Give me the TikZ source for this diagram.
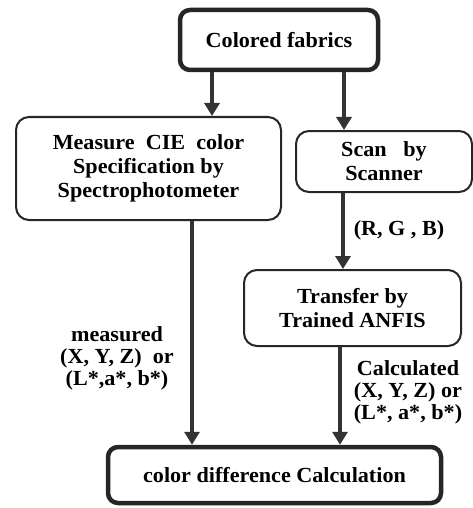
\documentclass[tikz,border=0pt]{standalone}
\usepackage{fontspec}
\setmainfont{Liberation Serif}[FakeStretch=1.03]
\usetikzlibrary{arrows.meta}
\begin{document}
\begin{tikzpicture}[x=1pt,y=-1pt,
  font=\fontsize{21.5}{24}\selectfont\bfseries,
  thickbox/.style={draw=black!85,line width=4.5pt,rounded corners=10pt,inner sep=0pt,align=center},
  thinbox/.style={draw=black!85,line width=2pt,rounded corners=13pt,inner sep=0pt,align=center},
  arr/.style={draw=black!80,line width=3.5pt,-{Triangle[width=15pt,length=13pt]}},
  lbl/.style={align=center,inner sep=0pt,font=\fontsize{21.5}{22}\selectfont\bfseries}]
\useasboundingbox (0,0) rectangle (473,508);
\node[thickbox,minimum width=198pt,minimum height=60pt] (top) at (279,40) {Colored fabrics};
\node[thinbox,minimum width=265pt,minimum height=103pt] (meas) at (148.5,168.5) {Measure\ \ CIE\ \ color\\Specification by\\Spectrophotometer};
\node[thinbox,minimum width=176pt,minimum height=61pt] (scan) at (384,161.5) {Scan\ \ \ by\\Scanner};
\node[thinbox,minimum width=217pt,minimum height=76pt] (anfis) at (352.5,308) {Transfer by\\Trained ANFIS};
\node[thickbox,minimum width=333pt,minimum height=56pt] (diff) at (274.5,475) {color difference Calculation};
\coordinate (c1) at (212,0);
\coordinate (c2) at (344,0);
\coordinate (c3) at (192,0);
\coordinate (c4) at (343,0);
\coordinate (c5) at (340,0);
\draw[arr] (top.south -| c1) -- (meas.north -| c1);
\draw[arr] (top.south -| c2) -- (scan.north -| c2);
\draw[arr] (meas.south -| c3) -- (diff.north -| c3);
\draw[arr] (scan.south -| c4) -- (anfis.north -| c4);
\draw[arr] (anfis.south -| c5) -- (diff.north -| c5);
\node[lbl] (rgb) at (399,230) {(R, G , B)};
\node[lbl] (mlab) at (117,358) {measured\\(X, Y, Z)\ \ or\\(L*,a*, b*)};
\node[lbl] (clab) at (408,392) {Calculated\\(X, Y, Z) or\\(L*, a*, b*)};
\end{tikzpicture}
\end{document}
